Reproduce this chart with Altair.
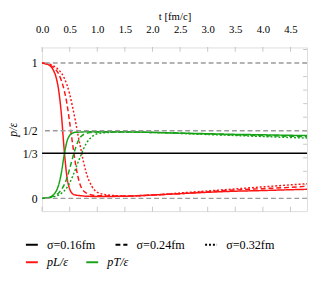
import altair as alt
import pandas as pd

# ---- data ----
t_pl_016 = [0, .1, .2, .25, .3, .35, .4, .45, .5, .55, .6, .7, .8, 1.0, 1.5, 2.0, 2.5, 3.0, 3.5, 4.0, 4.5, 4.8]
v_pl_016 = [1.0, .99, .95, .9, .8, .62, .36, .16, .07, .035, .025, .02, .016, .014, .016, .025, .035, .045, .053, .058, .064, .067]

t_pl_024 = [0, .1, .2, .3, .35, .4, .45, .5, .55, .6, .65, .7, .8, .9, 1.0, 1.5, 2.0, 2.5, 3.0, 3.5, 4.0, 4.5, 4.8]
v_pl_024 = [1.0, .99, .97, .92, .87, .8, .7, .56, .41, .27, .16, .09, .04, .025, .02, .017, .025, .035, .05, .062, .072, .082, .09]

t_pl_032 = [0, .1, .2, .3, .4, .45, .5, .55, .6, .65, .7, .75, .8, .9, 1.0, 1.2, 1.5, 2.0, 2.5, 3.0, 3.5, 4.0, 4.5, 4.8]
v_pl_032 = [1.0, .995, .98, .95, .89, .84, .77, .68, .58, .47, .37, .27, .19, .09, .045, .025, .018, .025, .04, .055, .07, .085, .1, .108]

t_pt_016 = [0, .1, .2, .25, .3, .35, .4, .45, .5, .55, .6, .7, .8, 1.0, 1.5, 2.0, 2.5, 3.0, 3.5, 4.0, 4.5, 4.8]
v_pt_016 = [0, .005, .025, .05, .1, .19, .32, .42, .465, .482, .488, .49, .492, .493, .492, .488, .482, .478, .473, .47, .466, .464]

t_pt_024 = [0, .1, .2, .3, .35, .4, .45, .5, .55, .6, .65, .7, .8, .9, 1.0, 1.5, 2.0, 2.5, 3.0, 3.5, 4.0, 4.5, 4.8]
v_pt_024 = [0, .005, .015, .04, .065, .1, .15, .22, .295, .365, .42, .455, .48, .487, .49, .491, .487, .482, .475, .469, .464, .459, .455]

t_pt_032 = [0, .1, .2, .3, .4, .45, .5, .55, .6, .65, .7, .75, .8, .9, 1.0, 1.2, 1.5, 2.0, 2.5, 3.0, 3.5, 4.0, 4.5, 4.8]
v_pt_032 = [0, .003, .01, .025, .055, .08, .115, .16, .21, .265, .315, .365, .405, .455, .477, .487, .491, .487, .48, .472, .465, .457, .45, .446]

sigma_labels = ["σ=0.16fm", "σ=0.24fm", "σ=0.32fm"]
comp_labels = ["pL/ε", "pT/ε"]
x_ticks = [0.0, 0.5, 1.0, 1.5, 2.0, 2.5, 3.0, 3.5, 4.0, 4.5]
y_ticks = [0, 1 / 3, 1 / 2, 1]
y_minor = [0, .1, .2, .3, .4, .5, .6, .7, .8, .9, 1.0, 1.1]
gray_refs = [0, 0.5, 1]
black_refs = [1 / 3]

series = [
    (t_pl_016, v_pl_016, comp_labels[0], sigma_labels[0]),
    (t_pl_024, v_pl_024, comp_labels[0], sigma_labels[1]),
    (t_pl_032, v_pl_032, comp_labels[0], sigma_labels[2]),
    (t_pt_016, v_pt_016, comp_labels[1], sigma_labels[0]),
    (t_pt_024, v_pt_024, comp_labels[1], sigma_labels[1]),
    (t_pt_032, v_pt_032, comp_labels[1], sigma_labels[2]),
]
rows = []
for ts, vs, c, s in series:
    for t, v in zip(ts, vs):
        rows.append({"t": t, "v": v, "comp": c, "sigma": s, "key": c + s})
df = pd.DataFrame(rows)

FONT = "Liberation Serif"
W, H = 272, 168
xscale = alt.Scale(domain=[0, 4.8], nice=False, zero=False)
yscale = alt.Scale(domain=[-0.094, 1.115], nice=False, zero=False)

gray = alt.Chart(pd.DataFrame({"y": gray_refs})).mark_rule(
    color="#9a9a9a", strokeDash=[5, 3], strokeWidth=1.4
).encode(y=alt.Y("y:Q", scale=yscale, axis=None))

black = alt.Chart(pd.DataFrame({"y": black_refs})).mark_rule(
    color="black", strokeWidth=1.4
).encode(y=alt.Y("y:Q", scale=yscale, axis=None))

lines = alt.Chart(df).mark_line(strokeWidth=1.5, interpolate="monotone").encode(
    x=alt.X("t:Q", scale=xscale,
            axis=alt.Axis(orient="top", values=x_ticks, format=".1f", title="t [fm/c]",
                          ticks=False, domain=False, grid=False, labelPadding=13,
                          labelOverlap=False, labelFlush=False,
                          titlePadding=3, labelFont=FONT, titleFont=FONT,
                          labelFontSize=11, titleFontSize=11, titleFontWeight="normal",
                          labelColor="black", titleColor="black")),
    y=alt.Y("v:Q", scale=yscale,
            axis=alt.Axis(values=y_ticks, title="p/ε", ticks=False, domain=False, grid=False,
                          labelExpr="datum.value > 0.9 ? '1' : datum.value > 0.4 ? '1/2' : datum.value > 0.2 ? '1/3' : '0'",
                          labelOverlap=False, labelFlush=False,
                          labelPadding=5, titleX=-23, labelFont=FONT, titleFont=FONT,
                          labelFontSize=12, titleFontSize=12, titleFontWeight="normal",
                          titleFontStyle="italic", labelColor="black", titleColor="black")),
    color=alt.Color("comp:N", scale=alt.Scale(domain=comp_labels, range=["#ff1414", "#17a317"]),
                    legend=alt.Legend(orient="none", legendX=-18, legendY=213, direction="horizontal",
                                      title=None, symbolType="stroke", symbolStrokeWidth=2,
                                      symbolSize=150, labelFont=FONT, labelFontSize=12.5,
                                      labelFontStyle="italic", columnPadding=14, labelOffset=8)),
    strokeDash=alt.StrokeDash("sigma:N", scale=alt.Scale(domain=sigma_labels, range=[[1, 0], [5, 3], [2, 2]]),
                              legend=alt.Legend(orient="none", legendX=-18, legendY=195, direction="horizontal",
                                                title=None, symbolType="stroke", symbolStrokeWidth=2,
                                                symbolStrokeColor="black", symbolSize=150,
                                                labelFont=FONT, labelFontSize=12.5, columnPadding=16,
                                                labelOffset=8)),
    detail="key:N",
    order="t:Q",
)

top_ticks = alt.Chart(pd.DataFrame({"x": x_ticks})).mark_tick(
    color="#b0b0b0", size=5, thickness=1
).encode(x=alt.X("x:Q", scale=xscale, axis=None), y=alt.value(2))

bottom_ticks = alt.Chart(pd.DataFrame({"x": x_ticks})).mark_tick(
    color="#b0b0b0", size=5, thickness=1
).encode(x=alt.X("x:Q", scale=xscale, axis=None), y=alt.value(H - 2))

right_ticks = alt.Chart(pd.DataFrame({"y": y_minor})).mark_tick(
    color="#b0b0b0", size=4, thickness=1, orient="horizontal"
).encode(y=alt.Y("y:Q", scale=yscale, axis=None), x=alt.value(W - 2))

chart = alt.layer(lines, gray, black, top_ticks, bottom_ticks, right_ticks).resolve_axis(
    x="independent", y="independent"
).properties(
    width=W, height=H,
    autosize=alt.AutoSizeParams(type="none"),
    padding={"left": 35, "top": 37, "right": 1, "bottom": 60},
).configure_view(stroke="#c4c4c4", strokeWidth=2).configure(background="white")

chart.save("out.html", embed_options={"renderer": "svg", "actions": False})
